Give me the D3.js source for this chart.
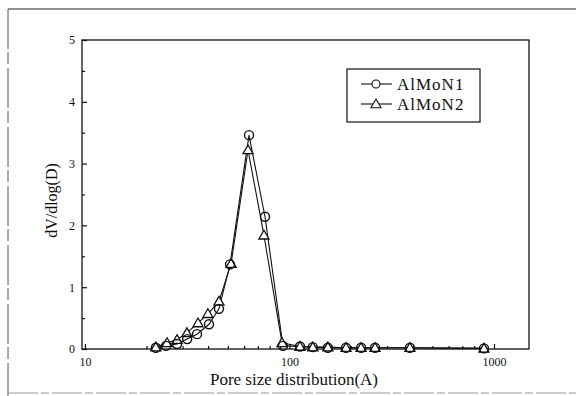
<!DOCTYPE html>
<html>
<head>
<meta charset="utf-8">
<script src="https://cdn.jsdelivr.net/npm/d3@7/dist/d3.min.js"></script>
<style>
html,body{margin:0;padding:0;background:#fff;}
svg{display:block;}
text{font-family:"Liberation Serif","Times New Roman",serif;fill:#111;}
</style>
</head>
<body>
<svg id="chart" width="576" height="396"></svg>
<script>
// ---- data ----
const seriesNames = ["AlMoN1", "AlMoN2"];
const poreSizeN1 = [22.2, 24.9, 28.2, 31.6, 35.3, 40.4, 45.2, 51.2, 63.4, 75.9, 92.9, 112.5, 130, 154, 189, 224, 262, 388, 893];
const dvN1       = [0.02, 0.05, 0.08, 0.16, 0.24, 0.40, 0.65, 1.37, 3.46, 2.14, 0.05, 0.04, 0.03, 0.02, 0.02, 0.02, 0.02, 0.02, 0.01];
const poreSizeN2 = [22.2, 25.2, 28.2, 31.5, 35.7, 39.9, 45.2, 51.8, 62.7, 75.0, 91.9, 112.5, 130, 154, 189, 224, 262, 388, 893];
const dvN2       = [0.03, 0.10, 0.15, 0.26, 0.42, 0.57, 0.77, 1.38, 3.22, 1.84, 0.10, 0.04, 0.03, 0.03, 0.02, 0.02, 0.02, 0.02, 0.01];
const xMajorTicks = [10, 100, 1000];
const xMinorTicks = [20, 30, 40, 50, 60, 70, 80, 90, 200, 300, 400, 500, 600, 700, 800, 900];
const yMajorTicks = [0, 1, 2, 3, 4, 5];
const yMinorTicks = [0.5, 1.5, 2.5, 3.5, 4.5];
const xLabel = "Pore size distribution(A)";
const yLabel = "dV/dlog(D)";

// ---- layout ----
const svg = d3.select("#chart");
const L = 82, R = 529, T = 40, B = 349;
const x = d3.scaleLog().domain([9.67, 1483]).range([L, R]);
const y = d3.scaleLinear().domain([0, 5]).range([B, T]);
const SERIF = '"Liberation Serif","Times New Roman",serif';

// outer scan frame
svg.append("line").attr("x1", 8).attr("x2", 576).attr("y1", 9).attr("y2", 9)
  .attr("stroke", "#222").attr("stroke-width", 1.2);
svg.append("line").attr("x1", 8).attr("x2", 8).attr("y1", 9).attr("y2", 396)
  .attr("stroke", "#555").attr("stroke-width", 1).attr("stroke-dasharray", "40,3,12,4");
svg.append("line").attr("x1", 8).attr("x2", 576).attr("y1", 393).attr("y2", 393)
  .attr("stroke", "#999").attr("stroke-width", 1).attr("stroke-dasharray", "30,3,8,3");

// plot frame
svg.append("rect").attr("x", L).attr("y", T).attr("width", R - L).attr("height", B - T)
  .attr("fill", "none").attr("stroke", "#111").attr("stroke-width", 1.3);

// x axis (inward ticks)
const xAxis = d3.axisBottom(x).tickValues(xMajorTicks).tickFormat(d3.format("d"))
  .tickSizeInner(-5).tickSizeOuter(0).tickPadding(8);
const gx = svg.append("g").attr("transform", `translate(0,${B})`).call(xAxis);
gx.select(".domain").remove();
const xAxisMinor = d3.axisBottom(x).tickValues(xMinorTicks).tickFormat("")
  .tickSizeInner(-3).tickSizeOuter(0);
const gxm = svg.append("g").attr("transform", `translate(0,${B})`).call(xAxisMinor);
gxm.select(".domain").remove();

// y axis (inward ticks)
const yAxis = d3.axisLeft(y).tickValues(yMajorTicks).tickFormat(d3.format("d"))
  .tickSizeInner(-5).tickSizeOuter(0).tickPadding(7);
const gy = svg.append("g").attr("transform", `translate(${L},0)`).call(yAxis);
gy.select(".domain").remove();
const yAxisMinor = d3.axisLeft(y).tickValues(yMinorTicks).tickFormat("")
  .tickSizeInner(-3).tickSizeOuter(0);
const gym = svg.append("g").attr("transform", `translate(${L},0)`).call(yAxisMinor);
gym.select(".domain").remove();
svg.selectAll("g").attr("font-family", SERIF).attr("font-size", 12);
svg.selectAll(".tick text").style("font-family", SERIF).style("font-size", "12px").attr("fill", "#111");
svg.selectAll(".tick line").attr("stroke", "#111").attr("stroke-width", 1.2);

// axis labels
svg.append("text").attr("x", 294).attr("y", 385)
  .attr("text-anchor", "middle").style("font-family", SERIF).style("font-size", "17px").text(xLabel);
svg.append("text").attr("transform", `translate(57,${(T + B) / 2 + 6}) rotate(-90)`)
  .attr("text-anchor", "middle").style("font-family", SERIF).style("font-size", "16px").text(yLabel);

// series
const data1 = poreSizeN1.map((d, i) => ({x: d, y: dvN1[i]}));
const data2 = poreSizeN2.map((d, i) => ({x: d, y: dvN2[i]}));
const line = d3.line().x(d => x(d.x)).y(d => y(d.y));

svg.append("path").datum(data1).attr("d", line)
  .attr("fill", "none").attr("stroke", "#111").attr("stroke-width", 1.1);
svg.append("path").datum(data2).attr("d", line)
  .attr("fill", "none").attr("stroke", "#111").attr("stroke-width", 1.1);

const triSym = d3.symbol().type(d3.symbolTriangle).size(44);

svg.append("g").selectAll("path").data(data2).join("path")
  .attr("transform", d => `translate(${x(d.x)},${y(d.y) + 0.8})`)
  .attr("d", triSym).attr("fill", "#fff").attr("stroke", "#111").attr("stroke-width", 1.3);
svg.append("g").selectAll("circle").data(data1).join("circle")
  .attr("cx", d => x(d.x)).attr("cy", d => y(d.y)).attr("r", 4.5)
  .attr("fill", "none").attr("stroke", "#111").attr("stroke-width", 1.4);

// legend
const lg = svg.append("g");
lg.append("rect").attr("x", 347).attr("y", 69).attr("width", 133).attr("height", 53)
  .attr("fill", "#fff").attr("stroke", "#111").attr("stroke-width", 1.2);
const entries = [
  {name: seriesNames[0], yy: 84, type: "circle"},
  {name: seriesNames[1], yy: 104, type: "tri"}
];
entries.forEach(e => {
  lg.append("line").attr("x1", 361).attr("x2", 392).attr("y1", e.yy).attr("y2", e.yy)
    .attr("stroke", "#111").attr("stroke-width", 1.1);
  if (e.type === "circle") {
    lg.append("circle").attr("cx", 376).attr("cy", e.yy).attr("r", 4)
      .attr("fill", "#fff").attr("stroke", "#111").attr("stroke-width", 1.1);
  } else {
    lg.append("path").attr("transform", `translate(376,${e.yy + 0.8})`)
      .attr("d", triSym).attr("fill", "#fff").attr("stroke", "#111").attr("stroke-width", 1.1);
  }
  lg.append("text").attr("x", 397).attr("y", e.yy + 6).style("font-family", SERIF).style("font-size", "17px")
    .attr("letter-spacing", 1).text(e.name);
});
</script>
</body>
</html>
